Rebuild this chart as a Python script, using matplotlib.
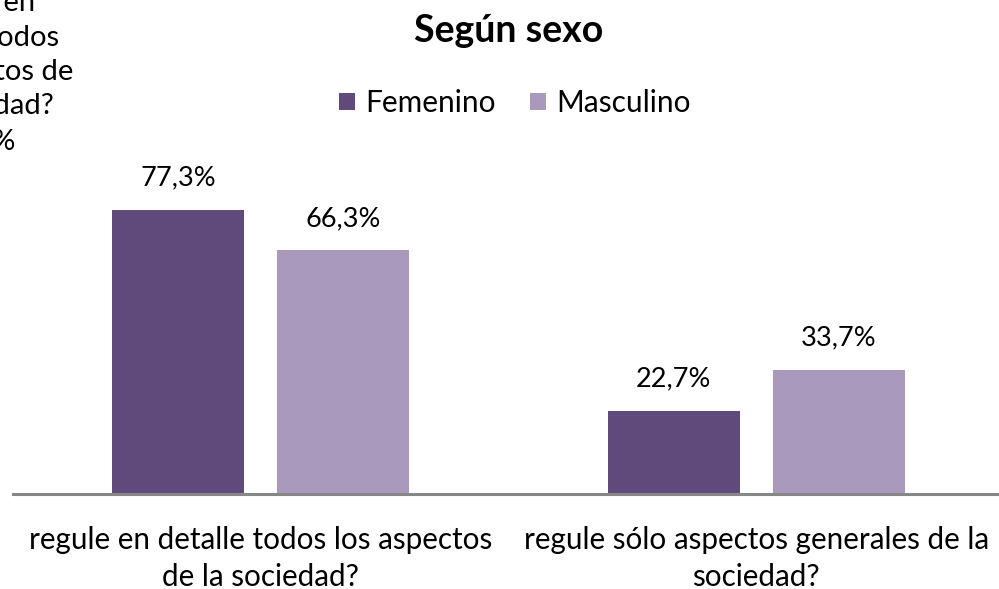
import matplotlib.pyplot as plt
import numpy as np

# ==== data ====
categorias = ["regule en detalle todos los aspectos\nde la sociedad?",
              "regule sólo aspectos generales de la\nsociedad?"]
series = ["Femenino", "Masculino"]
femenino = [77.3, 22.7]
masculino = [66.3, 33.7]
colores = ["#604A7B", "#A99ABD"]

plt.rcParams["font.family"] = ["Lato", "DejaVu Sans"]

fig = plt.figure(figsize=(9.99, 5.89), dpi=100)
W, H = 999, 589
# axes: baseline at y=494px, x from 13px, one category = 495.5px
ax = fig.add_axes([13 / W, (H - 494) / H, 991 / W, 344 / H])

x = np.arange(len(categorias))
ancho = 0.266
desp = 0.1665
valores = [femenino, masculino]
for i, (nombre, vals) in enumerate(zip(series, valores)):
    barras = ax.bar(x + (i * 2 - 1) * desp, vals, ancho, color=colores[i], label=nombre)
    for b, v in zip(barras, vals):
        ax.annotate(f"{v:.1f}%".replace(".", ","),
                    (b.get_x() + b.get_width() / 2, b.get_height()),
                    xytext=(0, 14), textcoords="offset points",
                    ha="center", va="bottom", fontsize=19.5, color="black")

ax.set_xlim(-0.5, 1.5)
ax.set_ylim(0, 344 / 3.674)
ax.set_xticks(x, categorias, fontsize=21.3, linespacing=1.38)
ax.tick_params(axis="x", length=0, pad=23)
ax.set_yticks([])
for s in ["top", "left", "right"]:
    ax.spines[s].set_visible(False)
ax.spines["bottom"].set_color("#878787")
ax.spines["bottom"].set_linewidth(2.2)

fig.text(509 / W, 1 - 31 / H, "Según sexo", ha="center", va="center",
         fontsize=27, fontweight="bold")

fig.legend(loc="center", bbox_to_anchor=(515 / W, 1 - 103 / H), ncol=2,
           frameon=False, fontsize=21.5, handlelength=0.52, handleheight=0.52,
           handletextpad=0.35, columnspacing=1.15)

# texto recortado de otro gráfico en la esquina superior izquierda
fig.text(-24 / W, 1 - 72 / H,
         "regule en\ndetalle todos\nlos aspectos de\nla sociedad?\n71,9%",
         ha="center", va="center", multialignment="center", fontsize=21,
         linespacing=1.4)

fig.savefig("out.png", dpi=100)
